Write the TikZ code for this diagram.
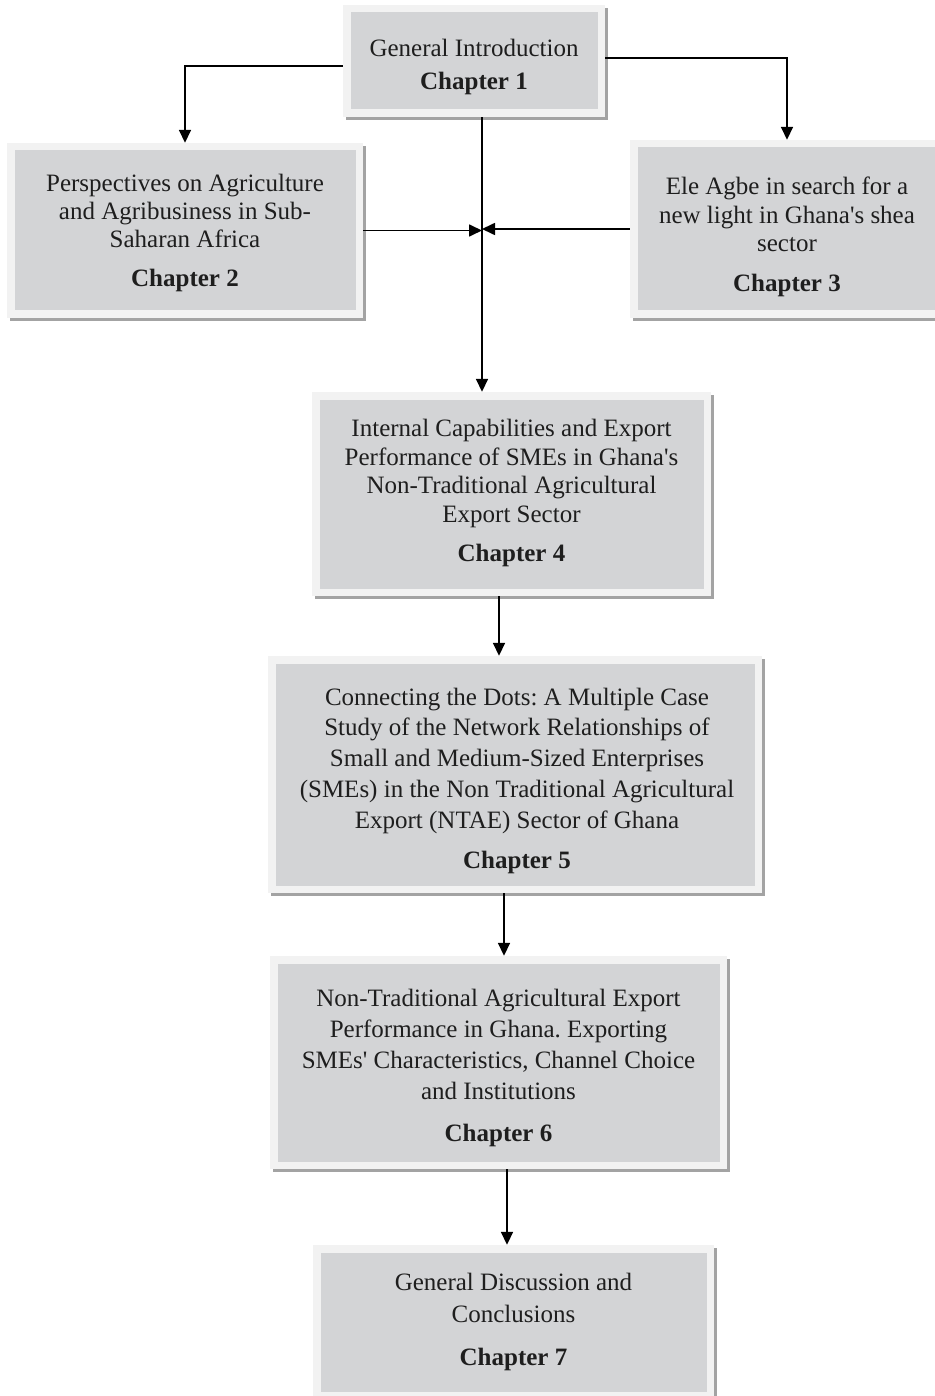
\documentclass[tikz,border=0pt]{standalone}
\usepackage{fontspec}
\newfontfamily\bodyfont{Liberation Serif}
\usetikzlibrary{arrows.meta,shadows}

\definecolor{framegray}{HTML}{F2F2F2}
\definecolor{panelgray}{HTML}{D3D4D6}
\definecolor{shadowgray}{HTML}{A3A3A3}
\definecolor{inkgray}{HTML}{1E1E1E}

\tikzset{
  lead/.style={font=\bodyfont\frenchspacing\fontsize{25}{#1}\selectfont},
  chapbox/.style={rectangle, fill=framegray, inner sep=0pt,
    drop shadow={shadow xshift=3pt, shadow yshift=-3pt, fill=shadowgray, opacity=1},
    path picture={\fill[panelgray]
      ([shift={(7.5pt,-7.5pt)}]path picture bounding box.north west) rectangle
      ([shift={(-7.5pt,7.5pt)}]path picture bounding box.south east);}},
  chaptext/.style={inner sep=0pt, text=inkgray, align=center, lead=28.5},
  link/.style={line width=1.7pt, draw=black, -{Triangle[length=13pt,width=12pt]}},
}

\begin{document}
\begin{tikzpicture}[x=1pt,y=-1pt]
\useasboundingbox (0,0) rectangle (934,1396);

% chapter boxes
\node[chapbox, minimum width=262pt, minimum height=112pt] (b1) at (474,61) {};
\node[chapbox, minimum width=356pt, minimum height=175pt] (b2) at (185,230.5) {};
\node[chapbox, minimum width=314pt, minimum height=178pt] (b3) at (787,229) {};
\node[chapbox, minimum width=399pt, minimum height=204pt] (b4) at (511.5,494) {};
\node[chapbox, minimum width=494pt, minimum height=237pt] (b5) at (515,774.5) {};
\node[chapbox, minimum width=457pt, minimum height=213pt] (b6) at (498.5,1062.5) {};
\node[chapbox, minimum width=401pt, minimum height=154pt] (b7) at (513.5,1322) {};

% box titles
\node[chaptext, lead=33] (t1) at ([yshift=-5.5pt]b1.center)
  {General Introduction\\\textbf{Chapter 1}};
\node[chaptext, lead=28] (t2) at ([yshift=-2pt]b2.center)
  {Perspectives on Agriculture\\and Agribusiness in Sub-\\Saharan Africa\\[11pt]\textbf{Chapter 2}};
\node[chaptext, lead=28.5] (t3) at ([yshift=-8pt]b3.center)
  {Ele Agbe in search for a\\new light in Ghana's shea\\sector\\[11pt]\textbf{Chapter 3}};
\node[chaptext, lead=28.5] (t4) at ([yshift=1pt]b4.center)
  {Internal Capabilities and Export\\Performance of SMEs in Ghana's\\Non-Traditional Agricultural\\Export Sector\\[11pt]\textbf{Chapter 4}};
\node[chaptext, lead=30.8] (t5) at ([xshift=2pt,yshift=-6pt]b5.center)
  {Connecting the Dots: A Multiple Case\\Study of the Network Relationships of\\Small and Medium-Sized Enterprises\\(SMEs) in the Non Traditional Agricultural\\Export (NTAE) Sector of Ghana\\[9pt]\textbf{Chapter 5}};
\node[chaptext, lead=31] (t6) at ([yshift=-5pt]b6.center)
  {Non-Traditional Agricultural Export\\Performance in Ghana. Exporting\\SMEs' Characteristics, Channel Choice\\and Institutions\\[11pt]\textbf{Chapter 6}};
\node[chaptext, lead=32] (t7) at (b7.center)
  {General Discussion and\\Conclusions\\[11pt]\textbf{Chapter 7}};

% guide points for the vertical runs
\coordinate (hub) at (482,230);
\coordinate (c45) at (499,0);
\coordinate (c56) at (504,0);
\coordinate (c67) at (507,0);

% connectors
\draw[link] ([yshift=-5pt]b1.west) -| (b2.north);
\draw[link] ([yshift=3pt]b1.east) -| (b3.north);
\draw[link] (b1.south -| hub) -- (b4.north -| hub);
\draw[link] (b2.east) -- (b2.east -| hub);
\draw[link] (b3.west) -- (b3.west -| hub);
\draw[link] (b4.south -| c45) -- (b5.north -| c45);
\draw[link] (b5.south -| c56) -- (b6.north -| c56);
\draw[link] (b6.south -| c67) -- (b7.north -| c67);
\end{tikzpicture}
\end{document}
